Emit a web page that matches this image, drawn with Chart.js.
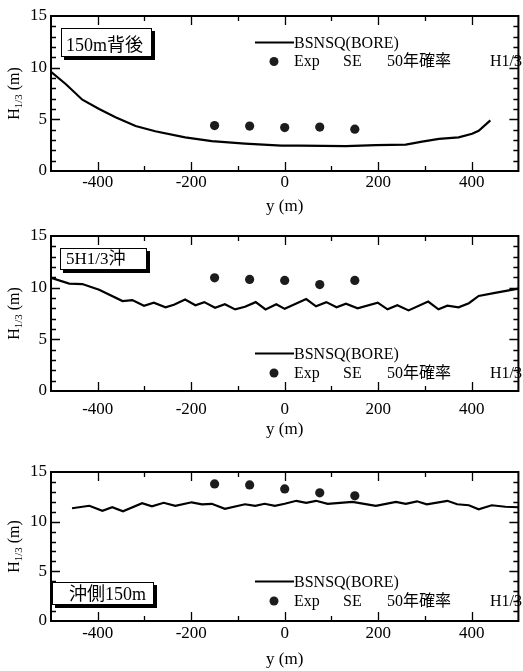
<!DOCTYPE html>
<html><head><meta charset="utf-8">
<script src="https://cdn.jsdelivr.net/npm/chart.js@4.4.1/dist/chart.umd.min.js"></script>
<style>
html,body{margin:0;padding:0;background:#fff;}
body{width:523px;height:671px;position:relative;overflow:hidden;}
.w{position:absolute;left:0;width:523px;}
</style></head><body>
<div class="w" style="top:0px;height:220px"><canvas id="c1"></canvas></div>
<div class="w" style="top:220px;height:225px"><canvas id="c2"></canvas></div>
<div class="w" style="top:450px;height:221px"><canvas id="c3"></canvas></div>
<script>
// ---- data ----
const xTicks = [-400, -200, 0, 200, 400];
const yTicks = [0, 5, 10, 15];
const expPos = [-150, -75, 0, 75, 150];

// panel 1 : 150m背後
const posBack = [-500,-468,-433,-397,-362,-319,-277,-213,-156,-85,-7,32,131,195,259,294,330,372,401,415,440];
const hBack   = [9.6,8.4,6.9,6.0,5.2,4.35,3.85,3.25,2.9,2.65,2.45,2.45,2.4,2.5,2.55,2.85,3.1,3.25,3.6,3.9,4.9];
const expBack = [4.4, 4.35, 4.2, 4.25, 4.05];

// panel 2 : 5H1/3沖
const pos5H = [-500,-461,-433,-397,-347,-326,-301,-280,-255,-237,-213,-191,-172,-149,-128,-106,-85,-62,-41,-18,0,46,67,89,111,131,156,199,220,241,265,307,329,348,372,394,415,450,500];
const h5H   = [10.95,10.4,10.35,9.8,8.7,8.8,8.25,8.55,8.1,8.35,8.85,8.3,8.6,8.05,8.4,7.9,8.15,8.6,7.9,8.4,7.95,8.9,8.2,8.6,8.1,8.45,8.0,8.55,7.9,8.3,7.8,8.65,7.9,8.25,8.1,8.5,9.2,9.5,9.9];
const exp5H = [10.95, 10.8, 10.7, 10.3, 10.7];

// panel 3 : 沖側150m
const pos150 = [-455,-418,-390,-369,-346,-305,-284,-259,-234,-199,-177,-156,-128,-85,-63,-43,-21,0,25,46,67,92,145,195,238,259,283,304,348,369,394,415,443,472,500];
const h150   = [11.35,11.6,11.1,11.45,11.05,11.85,11.55,11.9,11.6,11.95,11.75,11.8,11.3,11.75,11.6,11.8,11.6,11.8,12.1,11.9,12.1,11.8,12.0,11.6,12.0,11.8,12.05,11.75,12.1,11.75,11.65,11.25,11.65,11.5,11.45];
const exp150 = [13.8, 13.7, 13.3, 12.9, 12.6];

const panelLabels = ['150m背後', '5H1/3沖', '沖側150m'];
const lineName = 'BSNSQ(BORE)';
const expParts = ['Exp', 'SE', '50年確率', 'H1/3'];
const xTitle = 'y (m)';

// ---- drawing ----
const SERIF = '"Liberation Serif", "Times New Roman", "Noto Sans CJK JP", serif';
const DOT = '#1c1c1c';

function deco(cfg) {
  return {
    id: 'deco',
    afterDraw(chart) {
      const ctx = chart.ctx, a = chart.chartArea;
      const xs = chart.scales.x, ys = chart.scales.y;
      ctx.save();
      ctx.strokeStyle = '#000';
      ctx.lineWidth = 2;
      ctx.strokeRect(a.left, a.top, a.right - a.left, a.bottom - a.top);
      ctx.lineWidth = 1.3;
      ctx.beginPath();
      for (let v = -400; v <= 400; v += 100) {
        const px = Math.round(xs.getPixelForValue(v)) + 0.5;
        const L = (v % 200 === 0) ? 9 : 5;
        ctx.moveTo(px, a.bottom); ctx.lineTo(px, a.bottom - L);
        ctx.moveTo(px, a.top); ctx.lineTo(px, a.top + L);
      }
      for (let v = 1; v < 15; v++) {
        const py = Math.round(ys.getPixelForValue(v)) + 0.5;
        const L = (v % 5 === 0) ? 9 : 5;
        ctx.moveTo(a.left, py); ctx.lineTo(a.left + L, py);
        ctx.moveTo(a.right, py); ctx.lineTo(a.right - L, py);
      }
      ctx.stroke();

      // y axis title with subscript
      const mid = (a.top + a.bottom) / 2;
      ctx.fillStyle = '#000';
      ctx.translate(18.5, mid);
      ctx.rotate(-Math.PI / 2);
      ctx.textBaseline = 'alphabetic';
      ctx.textAlign = 'left';
      const fBig = '16px ' + SERIF, fSm = '11px ' + SERIF;
      ctx.font = fBig; const wH = ctx.measureText('H').width;
      ctx.font = fSm; const wS = ctx.measureText('1/3').width;
      ctx.font = fBig; const wM = ctx.measureText(' (m)').width;
      let x0 = -(wH + wS + wM) / 2;
      ctx.font = fBig; ctx.fillText('H', x0, 0); x0 += wH;
      ctx.font = fSm; ctx.fillText('1/3', x0, 3.5); x0 += wS;
      ctx.font = fBig; ctx.fillText(' (m)', x0, 0);
      ctx.restore();

      // label box
      ctx.save();
      const b = cfg.box, T = cfg.top;
      ctx.fillStyle = '#000';
      ctx.fillRect(b.x + 3, b.y - T + 3, b.w, b.h);
      ctx.fillStyle = '#fff';
      ctx.fillRect(b.x, b.y - T, b.w, b.h);
      ctx.strokeStyle = '#000'; ctx.lineWidth = 1;
      ctx.strokeRect(b.x + 0.5, b.y - T + 0.5, b.w - 1, b.h - 1);
      ctx.fillStyle = '#000';
      ctx.font = b.size + 'px ' + SERIF;
      ctx.textBaseline = 'middle'; ctx.textAlign = 'left';
      ctx.fillText(b.text, b.tx, b.ty - T);

      // legend
      const lg = cfg.legend;
      ctx.lineWidth = 2;
      ctx.beginPath();
      ctx.moveTo(255, lg.r1 - T - 1.5); ctx.lineTo(294, lg.r1 - T - 1.5);
      ctx.stroke();
      ctx.font = '16px ' + SERIF;
      ctx.fillText(lineName, 294, lg.r1 - T);
      ctx.fillStyle = DOT;
      ctx.beginPath(); ctx.arc(274, lg.r2 - T - 0.5, 4.5, 0, Math.PI * 2); ctx.fill();
      ctx.fillStyle = '#000';
      const px = [294, 343, 387, 490];
      expParts.forEach((t, i) => ctx.fillText(t, px[i], lg.r2 - T));
      ctx.restore();
    }
  };
}

function makePanel(id, pos, h, exp, cfg) {
  const lineData = pos.map((v, i) => ({ x: v, y: h[i] }));
  const expData = expPos.map((v, i) => ({ x: v, y: exp[i] }));
  return new Chart(document.getElementById(id), {
    type: 'scatter',
    data: {
      datasets: [
        { label: lineName, data: lineData, showLine: true, borderColor: '#000', borderWidth: 2.2,
          pointRadius: 0, tension: 0, fill: false },
        { label: 'Exp SE 50年確率 H1/3', data: expData, pointRadius: 4.6, pointBackgroundColor: DOT,
          pointBorderColor: DOT, pointBorderWidth: 0, showLine: false }
      ]
    },
    options: {
      responsive: true, maintainAspectRatio: false, animation: false,
      layout: { padding: { top: cfg.padTop, bottom: cfg.padBottom, left: 0, right: 2 } },
      plugins: { legend: { display: false }, tooltip: { enabled: false } },
      scales: {
        x: {
          type: 'linear', min: -500, max: 500,
          afterBuildTicks: s => { s.ticks = xTicks.map(v => ({ value: v })); },
          afterFit: s => { s.height = cfg.axisH; },
          grid: { display: false, drawTicks: false },
          border: { display: false },
          ticks: { color: '#000', font: { family: SERIF, size: 17 }, padding: cfg.tickPad, maxRotation: 0,
                   callback: v => String(v) },
          title: { display: true, text: xTitle, color: '#000', font: { family: SERIF, size: 17 }, padding: 0 }
        },
        y: {
          type: 'linear', min: 0, max: 15,
          afterBuildTicks: s => { s.ticks = yTicks.map(v => ({ value: v })); },
          afterFit: s => { s.width = 51; },
          grid: { display: false, drawTicks: false },
          border: { display: false },
          ticks: { color: '#000', font: { family: SERIF, size: 17 }, padding: 4 }
        }
      }
    },
    plugins: [deco(cfg)]
  });
}

makePanel('c1', posBack, hBack, expBack, {
  top: 0, padTop: 16, padBottom: 3, axisH: 46, tickPad: 1,
  box: { text: panelLabels[0], x: 61, y: 28, w: 91, h: 29, tx: 66, ty: 46, size: 18 },
  legend: { r1: 44, r2: 62 }
});
makePanel('c2', pos5H, h5H, exp5H, {
  top: 220, padTop: 16, padBottom: 5, axisH: 49, tickPad: 8,
  box: { text: panelLabels[1], x: 60, y: 248, w: 87, h: 22, tx: 66, ty: 260, size: 17 },
  legend: { r1: 355, r2: 373.5 }
});
makePanel('c3', pos150, h150, exp150, {
  top: 450, padTop: 22, padBottom: 1, axisH: 49, tickPad: 2,
  box: { text: panelLabels[2], x: 52, y: 582, w: 102, h: 23, tx: 69, ty: 595, size: 18 },
  legend: { r1: 583, r2: 601.5 }
});
</script>
</body></html>
